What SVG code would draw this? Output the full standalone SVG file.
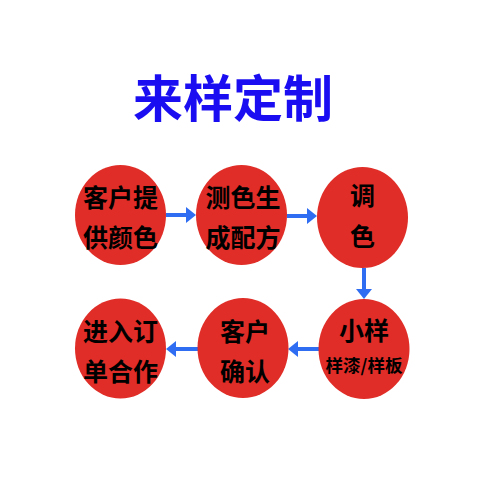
<svg xmlns="http://www.w3.org/2000/svg" width="480" height="480" viewBox="0 0 480 480">
<style>
.n{fill:#e02d27}
.t{font-family:"Noto Sans CJK SC","Noto Sans",sans-serif;font-weight:bold;fill:#000;text-anchor:middle}
.title{font-family:"Noto Sans CJK SC","Noto Sans",sans-serif;font-weight:bold;fill:#1a0df2;text-anchor:middle;font-size:50px}
.c{stroke:#2f6ef2;stroke-width:4;fill:none}
.h{fill:#2f6ef2}
</style>
<rect width="480" height="480" fill="#fff"/>
<text class="title" x="233" y="117">来样定制</text>
<g id="connectors">
<line class="c" x1="166" y1="215" x2="187" y2="215"/><polygon class="h" points="186,207 196,215 186,223"/>
<line class="c" x1="287" y1="216" x2="308" y2="216"/><polygon class="h" points="307,208 317,216 307,224"/>
<line class="c" x1="364" y1="268" x2="364" y2="290"/><polygon class="h" points="356,289 372,289 364,299"/>
<line class="c" x1="319" y1="349" x2="297" y2="349"/><polygon class="h" points="298,341 288,349 298,357"/>
<line class="c" x1="198" y1="349" x2="175" y2="349"/><polygon class="h" points="176,341 166,349 176,357"/>
</g>
<g id="n1"><ellipse class="n" cx="120.5" cy="215" rx="45.5" ry="50"/><text class="t" font-size="25" x="120.5" y="207">客户提</text><text class="t" font-size="25" x="120.5" y="247">供颜色</text></g>
<g id="n2"><ellipse class="n" cx="241.5" cy="215" rx="45.5" ry="50"/><text class="t" font-size="25" x="243" y="207">测色生</text><text class="t" font-size="25" x="243" y="247">成配方</text></g>
<g id="n3"><ellipse class="n" cx="362.5" cy="217.5" rx="45.5" ry="50.5"/><text class="t" font-size="25" x="362.5" y="205">调</text><text class="t" font-size="25" x="362.5" y="246">色</text></g>
<g id="n4"><ellipse class="n" cx="364" cy="349" rx="45.5" ry="50"/><text class="t" font-size="25" x="364" y="340">小样</text><text class="t" font-size="17.5" x="364" y="372">样漆/样板</text></g>
<g id="n5"><ellipse class="n" cx="243" cy="348" rx="45.5" ry="50"/><text class="t" font-size="25" x="245" y="341">客户</text><text class="t" font-size="25" x="245" y="381">确认</text></g>
<g id="n6"><ellipse class="n" cx="120.5" cy="348.5" rx="45.5" ry="50"/><text class="t" font-size="25" x="120.5" y="341">进入订</text><text class="t" font-size="25" x="120.5" y="381">单合作</text></g>
</svg>
